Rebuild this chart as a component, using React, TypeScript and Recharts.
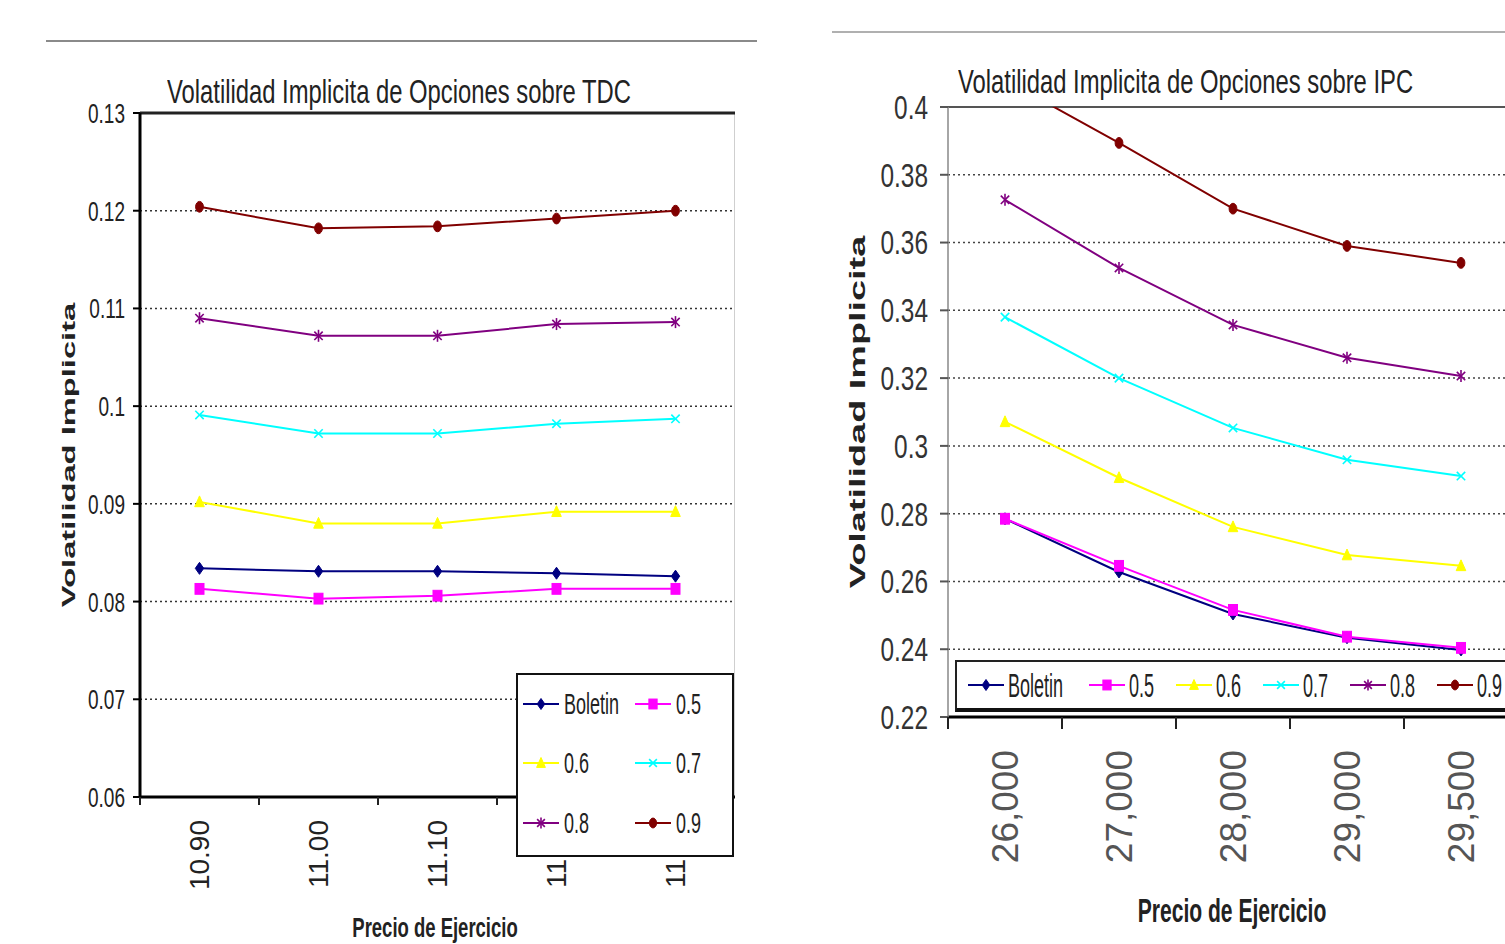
import React from 'react';
import { LineChart, Line, XAxis, YAxis, CartesianGrid, Legend, ReferenceLine } from 'recharts';

const FONT = '"Liberation Sans", Arial, sans-serif';

// ---- Left chart: TDC ----
const tdcStrikes = ['10.90', '11.00', '11.10', '11.20', '11.30'];
const tdcBoletin = [0.0834, 0.0831, 0.0831, 0.0829, 0.0826];
const tdc05 = [0.0813, 0.0803, 0.0806, 0.0813, 0.0813];
const tdc06 = [0.0902, 0.088, 0.088, 0.0892, 0.0892];
const tdc07 = [0.0991, 0.0972, 0.0972, 0.0982, 0.0987];
const tdc08 = [0.109, 0.1072, 0.1072, 0.1084, 0.1086];
const tdc09 = [0.1204, 0.1182, 0.1184, 0.1192, 0.12];
const tdcTicks = [0.06, 0.07, 0.08, 0.09, 0.1, 0.11, 0.12, 0.13];

// ---- Right chart: IPC ----
const ipcStrikes = ['26,000', '27,000', '28,000', '29,000', '29,500'];
const ipcBoletin = [0.2785, 0.2628, 0.2504, 0.2434, 0.2398];
const ipc05 = [0.2785, 0.2646, 0.2516, 0.2437, 0.2404];
const ipc06 = [0.3071, 0.2906, 0.2761, 0.2678, 0.2646];
const ipc07 = [0.338, 0.32, 0.3053, 0.2959, 0.2911];
const ipc08 = [0.3726, 0.3525, 0.3357, 0.326, 0.3206];
const ipc09 = [0.408, 0.3894, 0.37, 0.359, 0.354];
const ipcTicks = [0.22, 0.24, 0.26, 0.28, 0.3, 0.32, 0.34, 0.36, 0.38, 0.4];

const seriesKeys = ['boletin', 's05', 's06', 's07', 's08', 's09'];
const seriesNames = ['Boletin', '0.5', '0.6', '0.7', '0.8', '0.9'];
const seriesColors = ['#000080', '#FF00FF', '#FFFF00', '#00FFFF', '#800080', '#800000'];
const seriesMarkers = ['diamond', 'square', 'triangle', 'x', 'star', 'circle'];

const tdcSeries = [tdcBoletin, tdc05, tdc06, tdc07, tdc08, tdc09];
const ipcSeries = [ipcBoletin, ipc05, ipc06, ipc07, ipc08, ipc09];

const tdcData = tdcStrikes.map((strike, i) => {
  const row: any = { strike };
  seriesKeys.forEach((k, si) => (row[k] = tdcSeries[si][i]));
  return row;
});
const ipcData = ipcStrikes.map((strike, i) => {
  const row: any = { strike };
  seriesKeys.forEach((k, si) => (row[k] = ipcSeries[si][i]));
  return row;
});

const fmt = (v: number) => String(Number(Number(v).toFixed(2)));

function Marker({ cx, cy, shape, color, size }: any) {
  if (cx == null || cy == null || isNaN(cx) || isNaN(cy)) return null;
  const r = size / 2;
  switch (shape) {
    case 'diamond':
      return <path d={`M${cx},${cy - r} L${cx + r * 0.7},${cy} L${cx},${cy + r} L${cx - r * 0.7},${cy} Z`} fill={color} stroke={color} strokeWidth={1} />;
    case 'square':
      return <rect x={cx - r * 0.75} y={cy - r * 0.9} width={r * 1.5} height={r * 1.8} fill={color} stroke={color} />;
    case 'triangle':
      return <path d={`M${cx},${cy - r} L${cx + r * 0.8},${cy + r * 0.8} L${cx - r * 0.8},${cy + r * 0.8} Z`} fill={color} stroke={color} />;
    case 'x':
      return (
        <g stroke={color} strokeWidth={1.6}>
          <line x1={cx - r * 0.7} y1={cy - r * 0.7} x2={cx + r * 0.7} y2={cy + r * 0.7} />
          <line x1={cx - r * 0.7} y1={cy + r * 0.7} x2={cx + r * 0.7} y2={cy - r * 0.7} />
        </g>
      );
    case 'star':
      return (
        <g stroke={color} strokeWidth={1.6}>
          <line x1={cx - r * 0.7} y1={cy - r * 0.7} x2={cx + r * 0.7} y2={cy + r * 0.7} />
          <line x1={cx - r * 0.7} y1={cy + r * 0.7} x2={cx + r * 0.7} y2={cy - r * 0.7} />
          <line x1={cx} y1={cy - r} x2={cx} y2={cy + r} />
        </g>
      );
    default:
      return <ellipse cx={cx} cy={cy} rx={r * 0.65} ry={r * 0.9} fill={color} stroke={color} />;
  }
}

function YTick({ x, y, payload, fontSize, sx, color }: any) {
  return (
    <text
      x={x}
      y={y}
      dy="0.36em"
      textAnchor="end"
      fontSize={fontSize}
      fill={color}
      fontFamily={FONT}
      transform={`translate(${x} 0) scale(${sx} 1) translate(${-x} 0)`}
    >
      {fmt(payload.value)}
    </text>
  );
}

function XTick({ x, y, payload, half, markLen, gap, fontSize, color }: any) {
  return (
    <g>
      <line x1={x - half} x2={x - half} y1={y} y2={y + markLen} stroke="#222" strokeWidth={2} />
      <text
        transform={`translate(${x} ${y + gap}) rotate(-90)`}
        textAnchor="end"
        dy="0.35em"
        fontSize={fontSize}
        fill={color}
        fontFamily={FONT}
      >
        {payload.value}
      </text>
    </g>
  );
}

function LegendIcon({ idx, size }: any) {
  return (
    <svg width={36} height={20} style={{ display: 'block', flex: '0 0 auto' }}>
      <line x1={0} y1={10} x2={36} y2={10} stroke={seriesColors[idx]} strokeWidth={2} />
      <Marker cx={18} cy={10} shape={seriesMarkers[idx]} color={seriesColors[idx]} size={size} />
    </svg>
  );
}

const sortPayload = (payload: any[]) =>
  [...(payload || [])].sort((a, b) => seriesKeys.indexOf(a.dataKey) - seriesKeys.indexOf(b.dataKey));

function LeftLegend(props: any) {
  const payload = sortPayload(props.payload);
  return (
    <div
      style={{
        width: 218,
        height: 184,
        boxSizing: 'border-box',
        border: '2px solid #111',
        background: '#fff',
        display: 'grid',
        gridTemplateColumns: '112px 104px',
        gridTemplateRows: '58px 60px 60px',
      }}
    >
      {payload.map((entry: any) => {
        const idx = seriesKeys.indexOf(entry.dataKey);
        return (
          <div key={entry.dataKey} style={{ display: 'flex', alignItems: 'center', paddingLeft: 5 }}>
            <LegendIcon idx={idx} size={11} />
            <span
              style={{
                fontFamily: FONT,
                fontSize: 30,
                color: '#222',
                marginLeft: 5,
                display: 'inline-block',
                transform: 'scaleX(0.6)',
                transformOrigin: 'left center',
                whiteSpace: 'nowrap',
                lineHeight: 1,
              }}
            >
              {entry.value}
            </span>
          </div>
        );
      })}
    </div>
  );
}

const rightTextWidths = [58, 24, 24, 24, 24, 24];

function RightLegend(props: any) {
  const payload = sortPayload(props.payload);
  return (
    <div
      style={{
        width: 600,
        height: 52,
        boxSizing: 'border-box',
        border: '2px solid #222',
        borderBottom: '4px solid #111',
        background: '#fff',
        display: 'flex',
        alignItems: 'center',
        paddingLeft: 11,
      }}
    >
      {payload.map((entry: any) => {
        const idx = seriesKeys.indexOf(entry.dataKey);
        return (
          <div key={entry.dataKey} style={{ display: 'flex', alignItems: 'center', marginRight: 23 }}>
            <LegendIcon idx={idx} size={11} />
            <div style={{ width: rightTextWidths[idx], marginLeft: 4, overflow: 'visible' }}>
              <span
                style={{
                  fontFamily: FONT,
                  fontSize: 34,
                  color: '#222',
                  display: 'inline-block',
                  transform: 'scaleX(0.53)',
                  transformOrigin: 'left center',
                  whiteSpace: 'nowrap',
                  lineHeight: 1,
                }}
              >
                {entry.value}
              </span>
            </div>
          </div>
        );
      })}
    </div>
  );
}

function renderLines(size: number) {
  return seriesKeys.map((k, si) => (
    <Line
      key={k}
      type="linear"
      dataKey={k}
      name={seriesNames[si]}
      stroke={seriesColors[si]}
      strokeWidth={2}
      isAnimationActive={false}
      activeDot={false}
      dot={(p: any) => (
        <Marker key={`${k}-${p.index}`} cx={p.cx} cy={p.cy} shape={seriesMarkers[si]} color={seriesColors[si]} size={size} />
      )}
    />
  ));
}

const textBase: React.CSSProperties = {
  position: 'absolute',
  fontFamily: FONT,
  whiteSpace: 'nowrap',
  lineHeight: 1,
  color: '#222',
};

export default function App() {
  return (
    <div style={{ position: 'fixed', left: 0, top: 0, width: 1505, height: 944, overflow: 'hidden', background: '#fff' }}>
      {/* top rules */}
      <div style={{ position: 'absolute', left: 46, top: 40, width: 711, height: 2, background: '#8a8a8a' }} />
      <div style={{ position: 'absolute', left: 832, top: 31, width: 673, height: 2, background: '#b0b0b0' }} />
      {/* right border of left plot area */}
      <div style={{ position: 'absolute', left: 734, top: 113, width: 1, height: 684, background: '#cfcfcf' }} />

      {/* Left chart */}
      <div style={{ position: 'absolute', left: 0, top: 0 }}>
        <LineChart width={760} height={944} data={tdcData} margin={{ top: 113, right: 25, left: 80, bottom: 47 }}>
          <CartesianGrid vertical={false} stroke="#333" strokeWidth={1.5} strokeDasharray="2 3" />
          <ReferenceLine y={0.13} stroke="#222" strokeWidth={3} />
          <XAxis
            dataKey="strike"
            interval={0}
            height={100}
            padding={{ left: 59.5, right: 59.5 }}
            tickSize={0}
            tickMargin={0}
            tickLine={false}
            axisLine={{ stroke: '#000', strokeWidth: 3 }}
            tick={(p: any) => <XTick {...p} half={59.5} markLen={8} gap={23} fontSize={28} color="#222" />}
          />
          <YAxis
            type="number"
            width={60}
            domain={[0.06, 0.13]}
            ticks={tdcTicks}
            allowDataOverflow
            tickSize={7}
            tickMargin={8}
            tickLine={{ stroke: '#000', strokeWidth: 2 }}
            axisLine={{ stroke: '#000', strokeWidth: 3 }}
            tick={(p: any) => <YTick {...p} fontSize={28} sx={0.68} color="#222" />}
          />
          {renderLines(12)}
          <Legend
            layout="horizontal"
            verticalAlign="middle"
            align="center"
            wrapperStyle={{ left: 516, top: 673, width: 218, height: 184 }}
            content={(p: any) => <LeftLegend {...p} />}
          />
        </LineChart>
      </div>
      <div style={{ ...textBase, left: 167, top: 74, fontSize: 34, transform: 'scaleX(0.7)', transformOrigin: 'left top' }}>
        Volatilidad Implicita de Opciones sobre TDC
      </div>
      <div style={{ ...textBase, left: 68, top: 455, fontSize: 19, fontWeight: 'bold', transform: 'translate(-50%, -50%) rotate(-90deg) scaleX(1.72)' }}>
        Volatilidad Implicita
      </div>
      <div style={{ ...textBase, left: 435, top: 928, fontSize: 28, fontWeight: 'bold', transform: 'translate(-50%, -50%) scaleX(0.66)' }}>
        Precio de Ejercicio
      </div>

      {/* Right chart */}
      <div style={{ position: 'absolute', left: 830, top: 0 }}>
        <LineChart width={700} height={944} data={ipcData} margin={{ top: 107, right: 12, left: 58, bottom: 77 }}>
          <CartesianGrid vertical={false} stroke="#444" strokeWidth={1.5} strokeDasharray="2 3" />
          <ReferenceLine y={0.4} stroke="#555" strokeWidth={2} />
          <XAxis
            dataKey="strike"
            interval={0}
            height={150}
            padding={{ left: 57, right: 57 }}
            tickSize={0}
            tickMargin={0}
            tickLine={false}
            axisLine={{ stroke: '#000', strokeWidth: 3 }}
            tick={(p: any) => <XTick {...p} half={57} markLen={12} gap={33} fontSize={37} color="#555" />}
          />
          <YAxis
            type="number"
            width={60}
            domain={[0.22, 0.4]}
            ticks={ipcTicks}
            allowDataOverflow
            tickSize={8}
            tickMargin={12}
            tickLine={{ stroke: '#555', strokeWidth: 2 }}
            axisLine={{ stroke: '#888', strokeWidth: 1.5 }}
            tick={(p: any) => <YTick {...p} fontSize={33} sx={0.74} color="#333" />}
          />
          {renderLines(12)}
          <Legend
            layout="horizontal"
            verticalAlign="middle"
            align="center"
            wrapperStyle={{ left: 125, top: 660, width: 600, height: 52 }}
            content={(p: any) => <RightLegend {...p} />}
          />
        </LineChart>
      </div>
      <div style={{ ...textBase, left: 958, top: 64, fontSize: 34, transform: 'scaleX(0.7)', transformOrigin: 'left top' }}>
        Volatilidad Implicita de Opciones sobre IPC
      </div>
      <div style={{ ...textBase, left: 858, top: 412, fontSize: 22, fontWeight: 'bold', transform: 'translate(-50%, -50%) rotate(-90deg) scaleX(1.72)' }}>
        Volatilidad Implicita
      </div>
      <div style={{ ...textBase, left: 1232, top: 910, fontSize: 34, fontWeight: 'bold', transform: 'translate(-50%, -50%) scaleX(0.62)' }}>
        Precio de Ejercicio
      </div>
    </div>
  );
}
